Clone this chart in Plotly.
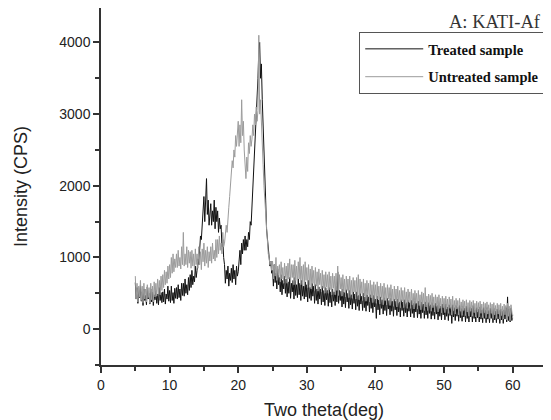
import plotly.graph_objects as go

# Scan grid (degrees 2-theta)
SCAN_START = 5.0
SCAN_STEP = 0.125

# Intensity (CPS), 8 readings per degree from 5.000 to 60.000 deg
treated = [
    650, 420, 580, 360, 540, 440, 610, 390,      # 5
    520, 330, 560, 400, 470, 340, 590, 420,      # 6
    500, 350, 560, 380, 520, 330, 480, 410,      # 7
    540, 360, 490, 340, 580, 400, 510, 370,      # 8
    520, 380, 560, 350, 490, 420, 600, 390,      # 9
    540, 370, 600, 400, 510, 360, 570, 430,      # 10
    580, 420, 620, 440, 560, 400, 640, 470,      # 11
    640, 460, 700, 500, 620, 480, 720, 540,      # 12
    760, 580, 820, 620, 740, 660, 880, 720,      # 13
    820, 980, 900, 1150, 1300, 1250, 1500, 1650, # 14
    1850, 1500, 1750, 2100, 1600, 1800, 1450, 1700,  # 15
    1750, 1450, 1650, 1500, 1800, 1400, 1700, 1500,  # 16
    1650, 1350, 1550, 1400, 1450, 1150, 1250, 1000,  # 17
    900, 640, 820, 700, 880, 600, 780, 680,      # 18
    850, 650, 900, 700, 820, 620, 880, 740,      # 19
    800, 950, 1100, 900, 1200, 1050, 1250, 1100, # 20
    1300, 1100, 1250, 1150, 1350, 1250, 1500, 1450,  # 21
    1700, 1950, 2100, 2400, 2600, 2900, 3200, 3500,  # 22
    3900, 4000, 3500, 3700, 3200, 2900, 2600, 2200,  # 23
    1800, 1400, 1250, 1050, 1000, 880, 950, 780, # 24
    820, 600, 900, 650, 780, 560, 840, 620,      # 25
    720, 520, 760, 480, 680, 560, 740, 500,      # 26
    700, 450, 660, 500, 720, 430, 640, 520,      # 27
    680, 420, 720, 470, 620, 440, 700, 480,      # 28
    640, 400, 680, 460, 600, 420, 660, 450,      # 29
    620, 380, 680, 430, 580, 400, 640, 460,      # 30
    600, 360, 620, 400, 560, 350, 590, 420,      # 31
    560, 340, 600, 380, 540, 330, 580, 410,      # 32
    540, 320, 580, 370, 520, 310, 560, 390,      # 33
    520, 330, 600, 380, 800, 360, 540, 400,      # 34
    530, 310, 560, 350, 510, 300, 550, 380,      # 35
    500, 290, 540, 340, 480, 280, 520, 360,      # 36
    490, 270, 520, 320, 470, 260, 500, 350,      # 37
    460, 260, 500, 300, 450, 250, 480, 330,      # 38
    450, 240, 480, 290, 440, 230, 470, 310,      # 39
    420, 150, 460, 270, 410, 200, 450, 290,      # 40
    410, 210, 440, 260, 400, 190, 430, 280,      # 41
    400, 200, 430, 250, 390, 180, 420, 270,      # 42
    390, 190, 420, 240, 380, 170, 410, 260,      # 43
    380, 180, 410, 230, 370, 170, 400, 250,      # 44
    370, 170, 400, 220, 360, 160, 390, 240,      # 45
    360, 160, 390, 210, 350, 150, 380, 230,      # 46
    350, 150, 380, 200, 340, 150, 370, 220,      # 47
    340, 140, 370, 190, 330, 140, 360, 210,      # 48
    330, 130, 360, 180, 320, 130, 350, 200,      # 49
    320, 130, 350, 180, 310, 120, 340, 190,      # 50
    310, 80, 340, 170, 300, 120, 330, 180,       # 51
    300, 110, 330, 160, 290, 110, 320, 170,      # 52
    290, 100, 320, 150, 280, 100, 310, 170,      # 53
    290, 100, 330, 150, 270, 100, 300, 160,      # 54
    280, 100, 310, 140, 270, 90, 300, 150,       # 55
    270, 90, 300, 140, 260, 90, 290, 150,        # 56
    260, 90, 290, 130, 250, 90, 280, 140,        # 57
    260, 80, 280, 130, 250, 80, 270, 140,        # 58
    300, 100, 450, 120, 280, 100, 290, 120,      # 59
    200,                                         # 60
]

untreated = [
    740, 420, 640, 380, 600, 450, 680, 400,      # 5
    600, 370, 640, 420, 560, 380, 620, 440,      # 6
    580, 360, 640, 410, 600, 380, 660, 450,      # 7
    640, 460, 700, 500, 680, 480, 740, 540,      # 8
    760, 580, 820, 620, 800, 640, 880, 700,      # 9
    900, 720, 1000, 780, 1050, 800, 980, 860,    # 10
    1050, 860, 1100, 880, 1000, 840, 1150, 900,  # 11
    1350, 880, 1050, 900, 1150, 860, 1100, 920,  # 12
    1080, 850, 1100, 880, 1050, 820, 1120, 900,  # 13
    1050, 850, 1150, 900, 1080, 830, 1120, 940,  # 14
    1200, 880, 1100, 920, 1150, 860, 1080, 950,  # 15
    1150, 920, 1200, 980, 1100, 950, 1250, 1000, # 16
    1250, 1050, 1300, 1100, 1200, 1050, 1350, 1150,  # 17
    1200, 1300, 1450, 1350, 1600, 1700, 1850, 2000,  # 18
    2100, 2350, 2250, 2500, 2400, 2700, 2550, 2800,  # 19
    2900, 2550, 2850, 2600, 3200, 2700, 2900, 2500,  # 20
    2300, 2100, 2400, 2200, 2600, 2450, 2700, 2550,  # 21
    2650, 2850, 2700, 3000, 2850, 3100, 2900, 3050,  # 22
    4100, 3000, 3200, 2800, 2500, 2300, 2000, 1800,  # 23
    1550, 1300, 1200, 1050, 1000, 900, 950, 820, # 24
    950, 700, 900, 740, 1000, 680, 880, 760,     # 25
    900, 660, 940, 700, 860, 640, 920, 720,      # 26
    880, 640, 920, 700, 980, 660, 900, 720,      # 27
    900, 620, 960, 680, 880, 640, 940, 700,      # 28
    1000, 620, 880, 660, 900, 600, 940, 680,     # 29
    860, 580, 900, 620, 840, 560, 880, 640,      # 30
    820, 540, 860, 600, 800, 530, 840, 620,      # 31
    780, 520, 820, 570, 760, 500, 800, 590,      # 32
    760, 500, 800, 550, 740, 480, 780, 570,      # 33
    740, 480, 780, 540, 880, 470, 760, 560,      # 34
    720, 460, 760, 520, 700, 450, 740, 540,      # 35
    700, 440, 740, 500, 680, 430, 720, 520,      # 36
    680, 420, 720, 480, 760, 410, 700, 500,      # 37
    660, 400, 700, 460, 640, 390, 680, 480,      # 38
    640, 380, 680, 440, 620, 370, 660, 460,      # 39
    620, 360, 660, 420, 600, 350, 640, 440,      # 40
    600, 340, 640, 400, 580, 340, 620, 420,      # 41
    580, 330, 620, 390, 560, 320, 600, 400,      # 42
    560, 310, 600, 370, 540, 300, 580, 390,      # 43
    540, 300, 580, 360, 520, 290, 560, 380,      # 44
    520, 290, 560, 340, 500, 280, 540, 360,      # 45
    500, 280, 540, 330, 480, 270, 520, 350,      # 46
    500, 260, 580, 310, 460, 260, 490, 330,      # 47
    470, 250, 500, 300, 450, 240, 480, 320,      # 48
    450, 240, 480, 290, 430, 230, 460, 300,      # 49
    430, 230, 460, 280, 420, 220, 450, 290,      # 50
    420, 200, 460, 260, 400, 210, 430, 280,      # 51
    400, 200, 430, 250, 380, 190, 410, 260,      # 52
    390, 190, 410, 240, 370, 180, 400, 250,      # 53
    380, 180, 400, 230, 360, 170, 390, 240,      # 54
    370, 170, 390, 220, 350, 160, 380, 230,      # 55
    360, 160, 380, 210, 340, 150, 370, 220,      # 56
    350, 150, 370, 200, 330, 150, 360, 210,      # 57
    340, 140, 360, 190, 320, 140, 350, 200,      # 58
    330, 130, 360, 180, 320, 120, 340, 190,      # 59
    150,                                         # 60
]

x_ticks = [0, 10, 20, 30, 40, 50, 60]
y_ticks = [0, 1000, 2000, 3000, 4000]

fig = go.Figure()
fig.add_trace(go.Scatter(
    x0=SCAN_START, dx=SCAN_STEP, y=treated, mode="lines",
    name="Treated sample", legendgroup="a",
    line=dict(color="#111111", width=1),
))
fig.add_trace(go.Scatter(
    x0=SCAN_START, dx=SCAN_STEP, y=untreated, mode="lines",
    name="Untreated sample", legendgroup="b",
    line=dict(color="#9c9c9c", width=1),
))

axis_font = dict(family="Liberation Sans, Arial, sans-serif", size=14, color="#222222")
title_font = dict(family="Liberation Sans, Arial, sans-serif", size=18, color="#222222")

# page body has an 8px margin, so the figure is sized to fit the 551x420 window
fig.update_layout(
    width=543, height=412,
    margin=dict(l=93, r=4, t=0, b=55, autoexpand=False),
    paper_bgcolor="white", plot_bgcolor="white",
    showlegend=True,
    legend=dict(
        x=0.579, y=0.933, xanchor="left", yanchor="top",
        bgcolor="rgba(0,0,0,0)", bordercolor="#555555", borderwidth=1,
        font=dict(family="Liberation Serif, Times New Roman, serif", size=14.5, color="#111111", weight="bold"),
        tracegroupgap=6, itemwidth=58,
    ),
    xaxis=dict(
        range=[0, 65], tickvals=x_ticks, ticks="outside", ticklen=6, tickwidth=1.5,
        tickcolor="#333333", showline=True, linecolor="#333333", linewidth=1.5, mirror=True,
        showgrid=False, zeroline=False, tickfont=axis_font,
        minor=dict(dtick=5, ticks="outside", ticklen=4, tickwidth=1.5, tickcolor="#333333", showgrid=False),
        title=dict(text="Two theta(deg)", font=title_font, standoff=12),
    ),
    yaxis=dict(
        range=[-500, 4480], tickvals=y_ticks, ticks="outside", ticklen=6, tickwidth=1.5,
        tickcolor="#333333", showline=True, linecolor="#333333", linewidth=1.5, mirror=True,
        showgrid=False, zeroline=False, tickfont=axis_font,
        minor=dict(dtick=500, ticks="outside", ticklen=4, tickwidth=1.5, tickcolor="#333333", showgrid=False),
        title=dict(text="Intensity (CPS)", font=title_font, standoff=27),
    ),
    annotations=[dict(
        text="A: KATI-Af", xref="paper", yref="paper", x=0.992, y=0.961,
        xanchor="right", yanchor="middle", showarrow=False,
        font=dict(family="Liberation Serif, Times New Roman, serif", size=18.5, color="#333333"),
    )],
)

fig.write_html("out.html")
